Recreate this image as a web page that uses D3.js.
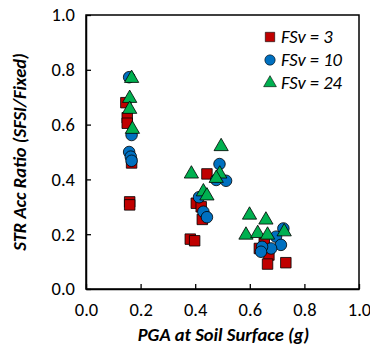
<!DOCTYPE html>
<html>
<head>
<meta charset="utf-8">
<script src="https://cdn.jsdelivr.net/npm/d3@7"></script>
<style>
  body { margin: 0; background: #fff; }
  svg { font-family: Calibri, Lato, "Open Sans", sans-serif; }
</style>
</head>
<body>
<svg width="370" height="358"></svg>
<script>
// values
const seriesNames = ["FSv = 3", "FSv = 10", "FSv = 24"];

const pga3   = [0.146, 0.151, 0.151, 0.167, 0.160, 0.160, 0.443, 0.404, 0.422, 0.426, 0.382, 0.398, 0.653, 0.635, 0.670, 0.665, 0.732];
const ratio3 = [0.680, 0.625, 0.605, 0.460, 0.318, 0.307, 0.420, 0.313, 0.300, 0.254, 0.182, 0.176, 0.167, 0.148, 0.124, 0.091, 0.096];

const pga10   = [0.158, 0.167, 0.158, 0.164, 0.167, 0.489, 0.477, 0.513, 0.414, 0.430, 0.443, 0.723, 0.696, 0.714, 0.678, 0.645, 0.641];
const ratio10 = [0.773, 0.562, 0.500, 0.483, 0.468, 0.456, 0.398, 0.395, 0.335, 0.282, 0.262, 0.221, 0.191, 0.161, 0.148, 0.154, 0.136];

const pga24   = [0.167, 0.160, 0.160, 0.170, 0.495, 0.386, 0.490, 0.477, 0.430, 0.443, 0.599, 0.659, 0.586, 0.629, 0.665, 0.726];
const ratio24 = [0.769, 0.696, 0.656, 0.583, 0.520, 0.420, 0.420, 0.404, 0.355, 0.340, 0.270, 0.252, 0.197, 0.203, 0.197, 0.209];

const xTicks = [0, 0.2, 0.4, 0.6, 0.8, 1.0];
const yTicks = [0, 0.2, 0.4, 0.6, 0.8, 1.0];

const colors = ["#C00000", "#0070C0", "#00B050"];
const shapes = [d3.symbolSquare, d3.symbolCircle, d3.symbolTriangle];
const symSize = [110, 105, 88];

const svg = d3.select("svg");
const pLeft = 86, pRight = 359, pTop = 15, pBottom = 289;
const fs = 18.5;

const x = d3.scaleLinear().domain([0, 1]).range([pLeft, pRight]);
const y = d3.scaleLinear().domain([0, 1]).range([pBottom, pTop]);

// frame
svg.append("rect")
  .attr("x", pLeft).attr("y", pTop)
  .attr("width", pRight - pLeft).attr("height", pBottom - pTop)
  .attr("fill", "none").attr("stroke", "#000").attr("stroke-width", 1.5);

const xAxis = svg.append("g")
  .attr("transform", `translate(0,${pBottom})`)
  .call(d3.axisBottom(x).tickValues(xTicks).tickFormat(d3.format(".1f")).tickSizeInner(-5).tickSizeOuter(0).tickPadding(14));

const yAxis = svg.append("g")
  .attr("transform", `translate(${pLeft},0)`)
  .call(d3.axisLeft(y).tickValues(yTicks).tickFormat(d3.format(".1f")).tickSizeInner(-5).tickSizeOuter(0).tickPadding(11));

[xAxis, yAxis].forEach(a => {
  a.select(".domain").attr("stroke", "#000").attr("stroke-width", 1.5);
  a.selectAll(".tick line").attr("stroke", "#000").attr("stroke-width", 1.3);
  a.selectAll(".tick text").attr("font-size", fs).attr("fill", "#000")
    .style("font-family", "Calibri, Lato, sans-serif");
});

// axis titles
svg.append("text")
  .attr("x", (pLeft + pRight) / 2 + 1).attr("y", 341)
  .attr("text-anchor", "middle")
  .attr("font-size", fs).attr("font-weight", "bold").attr("font-style", "italic")
  .text("PGA at Soil Surface (g)");

svg.append("text")
  .attr("transform", `translate(26,${(pTop + pBottom) / 2}) rotate(-90)`)
  .attr("text-anchor", "middle")
  .attr("font-size", fs).attr("font-weight", "bold").attr("font-style", "italic")
  .text("STR Acc Ratio (SFSI/Fixed)");

// points
const allSeries = [
  pga3.map((p, i) => ({x: p, y: ratio3[i]})),
  pga10.map((p, i) => ({x: p, y: ratio10[i]})),
  pga24.map((p, i) => ({x: p, y: ratio24[i]}))
];

allSeries.forEach((pts, s) => {
  svg.append("g").selectAll("path")
    .data(pts)
    .enter()
    .append("path")
    .attr("d", d3.symbol().type(shapes[s]).size(symSize[s]))
    .attr("transform", d => `translate(${x(d.x)},${y(d.y)})`)
    .attr("fill", colors[s])
    .attr("stroke", "#000")
    .attr("stroke-width", 0.8);
});

// legend
const legend = svg.append("g");
seriesNames.forEach((name, i) => {
  const ly = 37 + i * 23;
  legend.append("path")
    .attr("d", d3.symbol().type(shapes[i]).size(symSize[i] * 0.8))
    .attr("transform", `translate(270,${ly})`)
    .attr("fill", colors[i]).attr("stroke", "#000").attr("stroke-width", 0.6);
  legend.append("text")
    .attr("x", 281).attr("y", ly + 6)
    .attr("font-size", fs).attr("font-style", "italic")
    .text(name);
});
</script>
</body>
</html>
